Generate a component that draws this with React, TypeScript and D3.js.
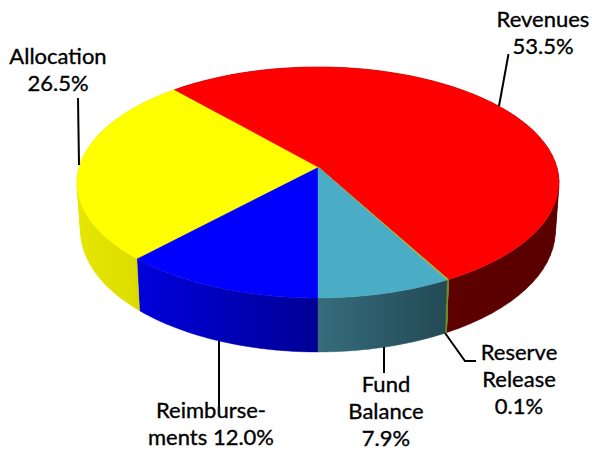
import React from "react";
import * as d3 from "d3";

const categories = ["Reimbursements", "Allocation", "Revenues", "Reserve Release", "Fund Balance"];
const shares = [12.0, 26.5, 53.5, 0.1, 7.9];
const topColors = ["#0000ff", "#ffff00", "#ff0000", "#a8c020", "#4bacc6"];
// Side wall colours, left to right on screen.
const sideStops = [
  ["#0000dc", "#0000b8", "#000094"],
  ["#e6e600", "#dede00", "#cfcf00"],
  ["#600000", "#5e0000", "#5a0000"],
  ["#709020", "#709020", "#709020"],
  ["#376d7c", "#2c5a68", "#234a55"],
];
const labelLines = [
  ["Reimburse-", "ments 12.0%"],
  ["Allocation", "26.5%"],
  ["Revenues", "53.5%"],
  ["Reserve", "Release", "0.1%"],
  ["Fund", "Balance", "7.9%"],
];
const labelAnchors: [number, number][] = [
  [211, 418],
  [58, 64],
  [543, 27],
  [519, 360],
  [386, 392],
];
const leaders: [number, number][][] = [
  [[219, 341], [219, 407]],
  [[78, 98], [79, 165]],
  [[508.5, 54], [499, 106]],
  [[445, 333], [465, 361], [476, 361]],
  [[384, 347], [384, 373]],
];

const W = 592, H = 451;
const cx = 318, cyTop = 167, a = 238.8, b = 113.4, k = 0.134;
const depthCy = 214.5, sx = 0.985, sy = 1.05;
const lineH = 27;

const projTop = (t: number): [number, number] => {
  const u = Math.sin(t), v = -Math.cos(t);
  const w = 1 - k * v;
  return [cx + (a * u) / w, cyTop + (b * v) / w];
};
const projBottom = (t: number): [number, number] => {
  const u = Math.sin(t), v = -Math.cos(t);
  const w = 1 - k * v;
  return [cx + (sx * a * u) / w, depthCy + (sy * b * v) / w];
};

export default function App() {
  // Angles run around the disc from its front point.
  const pie = d3.pie<number>().value((d) => d).sort(null).startAngle(Math.PI).endAngle(3 * Math.PI);
  const arcs = pie(shares);
  const line = d3.line();
  const arcPts = (s: number, e: number, f: (t: number) => [number, number]) =>
    d3.range(0, 61).map((i) => f(s + ((e - s) * i) / 60));
  // Every strip of the wall wound the same way, so that one path fills their union with no seams.
  const wallPath = (s: number, e: number) => {
    const tp = arcPts(s, e, projTop);
    const bt = arcPts(s, e, projBottom);
    return d3.range(0, 60).map((j) => {
      const q: [number, number][] = [tp[j], tp[j + 1], bt[j + 1], bt[j]];
      if (d3.polygonArea(q) < 0) q.reverse();
      return line(q)! + "Z";
    }).join("");
  };
  return (
    <svg width={W} height={H} style={{ position: "absolute", left: 0, top: 0, background: "#fff" }}
      fontFamily="Lato, sans-serif" fontSize={22} fill="#000">
      <defs>
        {arcs.map((d, i) => {
          const xs = [...arcPts(d.startAngle, d.endAngle, projTop), ...arcPts(d.startAngle, d.endAngle, projBottom)].map((p) => p[0]);
          return (
            <linearGradient key={i} id={`side${i}`} gradientUnits="userSpaceOnUse"
              x1={d3.min(xs)} x2={d3.max(xs)} y1={0} y2={0}>
              {sideStops[i].map((c, j) => (
                <stop key={j} offset={j / 2} stopColor={c} />
              ))}
            </linearGradient>
          );
        })}
      </defs>
      {arcs.map((d, i) => (
        <path key={i} d={wallPath(d.startAngle, d.endAngle)} fill={`url(#side${i})`} fillRule="nonzero"
          stroke={`url(#side${i})`} strokeWidth={0.4} />
      ))}
      {arcs.map((d, i) => {
        const pts: [number, number][] = [[cx, cyTop], ...arcPts(d.startAngle, d.endAngle, projTop)];
        return <path key={i} d={line(pts)! + "Z"} fill={topColors[i]} stroke={topColors[i]} strokeWidth={i === 3 ? 1 : 0.4} />;
      })}
      {leaders.map((l, i) => (
        <path key={i} d={line(l)!} fill="none" stroke="#000" strokeWidth={2} />
      ))}
      {labelLines.map((ls, i) => (
        <text key={i} textAnchor="middle" stroke="#000" strokeWidth={0.35}>
          {ls.map((t, j) => (
            <tspan key={j} x={labelAnchors[i][0]} y={labelAnchors[i][1] + j * lineH}>{t}</tspan>
          ))}
        </text>
      ))}
      <title>{categories.join(", ")}</title>
    </svg>
  );
}
